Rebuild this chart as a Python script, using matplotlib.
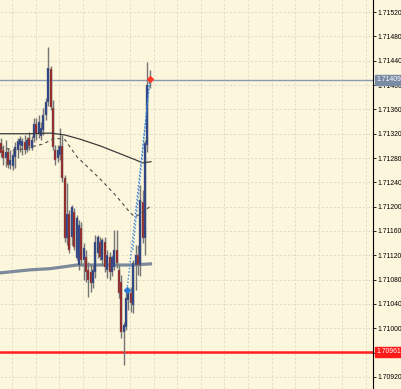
import matplotlib
matplotlib.use("Agg")
import matplotlib.pyplot as plt
from matplotlib.patches import Rectangle

# ---- data ----
opens = [1.71305, 1.71293, 1.71280, 1.71290, 1.71269, 1.71267, 1.71282, 1.71293, 1.71302, 1.71300,
         1.71307, 1.71293, 1.71313, 1.71297, 1.71313, 1.71336, 1.71320, 1.71316, 1.71326, 1.71351,
         1.71372, 1.71427, 1.71362, 1.71293, 1.71280, 1.71285, 1.71300, 1.71247, 1.71149, 1.71187,
         1.71150, 1.71191, 1.71116, 1.71104, 1.71165, 1.71113, 1.71117, 1.71096, 1.71092, 1.71075,
         1.71092, 1.71124, 1.71141, 1.71113, 1.71141, 1.71096, 1.71117, 1.71092, 1.71101, 1.71129,
         1.71096, 1.71076, 1.70993, 1.71002, 1.71047, 1.71058, 1.71039, 1.71104, 1.71121, 1.71104,
         1.71208, 1.71149, 1.71302, 1.71404]
highs = [1.71313, 1.71302, 1.71310, 1.71297, 1.71293, 1.71293, 1.71307, 1.71313, 1.71316, 1.71313,
         1.71318, 1.71315, 1.71323, 1.71316, 1.71346, 1.71346, 1.71351, 1.71339, 1.71362, 1.71379,
         1.71463, 1.71431, 1.71376, 1.71302, 1.71302, 1.71330, 1.71318, 1.71252, 1.71239, 1.71195,
         1.71203, 1.71198, 1.71187, 1.71178, 1.71175, 1.71141, 1.71129, 1.71109, 1.71104, 1.71104,
         1.71154, 1.71154, 1.71150, 1.71149, 1.71150, 1.71129, 1.71126, 1.71121, 1.71162, 1.71162,
         1.71104, 1.71088, 1.71011, 1.71060, 1.71063, 1.71067, 1.71113, 1.71137, 1.71137, 1.71236,
         1.71228, 1.71310, 1.71438, 1.71425]
lows = [1.71282, 1.71269, 1.71266, 1.71264, 1.71262, 1.71261, 1.71264, 1.71280, 1.71290, 1.71285,
        1.71287, 1.71290, 1.71293, 1.71293, 1.71307, 1.71310, 1.71313, 1.71310, 1.71318, 1.71343,
        1.71366, 1.71359, 1.71293, 1.71269, 1.71274, 1.71277, 1.71241, 1.71142, 1.71137, 1.71124,
        1.71137, 1.71129, 1.71113, 1.71096, 1.71104, 1.71080, 1.71076, 1.71052, 1.71060, 1.71066,
        1.71083, 1.71116, 1.71113, 1.71104, 1.71093, 1.71083, 1.71080, 1.71086, 1.71096, 1.71099,
        1.71050, 1.70984, 1.70940, 1.70997, 1.71030, 1.71027, 1.71025, 1.71063, 1.71088, 1.71086,
        1.71141, 1.71121, 1.71290, 1.71395]
closes = [1.71288, 1.71280, 1.71290, 1.71269, 1.71277, 1.71285, 1.71298, 1.71308, 1.71311, 1.71308,
          1.71293, 1.71310, 1.71300, 1.71310, 1.71336, 1.71320, 1.71339, 1.71330, 1.71351, 1.71372,
          1.71428, 1.71364, 1.71298, 1.71277, 1.71293, 1.71300, 1.71247, 1.71149, 1.71187, 1.71129,
          1.71200, 1.71134, 1.71182, 1.71170, 1.71113, 1.71132, 1.71092, 1.71080, 1.71075, 1.71096,
          1.71141, 1.71150, 1.71117, 1.71145, 1.71101, 1.71121, 1.71092, 1.71117, 1.71129, 1.71108,
          1.71058, 1.70993, 1.71006, 1.71050, 1.71058, 1.71042, 1.71108, 1.71121, 1.71104, 1.71211,
          1.71149, 1.71305, 1.71400, 1.71410]

# moving averages: (bar position, price)
ma_slow_x = [-0.5, 12, 21, 27, 33.5, 42, 50.5, 57, 60, 63.5]
ma_slow_y = [1.71320, 1.71320, 1.71321, 1.71318, 1.71311, 1.71300, 1.71287, 1.71277, 1.71272, 1.71274]
ma_dash_x = [-0.5, 6.8, 12.3, 17.8, 22.9, 27.1, 32.2, 41.9, 49.2, 54.7, 56.8, 60.2, 64]
ma_dash_y = [1.71297, 1.71293, 1.71298, 1.71303, 1.71313, 1.71310, 1.71282, 1.71246, 1.71216,
             1.71190, 1.71183, 1.71191, 1.71203]
ma_long_x = [-0.5, 12.3, 20.8, 32.2, 41.9, 55.9, 64]
ma_long_y = [1.71091, 1.71096, 1.71098, 1.71104, 1.71104, 1.71104, 1.71106]

sig_a_x = [53.4, 56.8, 60.2, 63.1]
sig_a_y = [1.71063, 1.71183, 1.71304, 1.71410]
sig_b_x = [55.9, 59.5, 63.1]
sig_b_y = [1.71129, 1.71270, 1.71410]

bid_price = 1.71409
line_price = 1.70961
tick_prices = [1.70920, 1.70960, 1.71000, 1.71040, 1.71080, 1.71120, 1.71160, 1.71200,
               1.71240, 1.71280, 1.71320, 1.71360, 1.71400, 1.71440, 1.71480, 1.71520]
# the 1.70960 label is hidden under the red price box in the reference
tick_labels = ["1.70920", "", "1.71000", "1.71040", "1.71080", "1.71120", "1.71160",
               "1.71200", "1.71240", "1.71280", "1.71320", "1.71360", "1.71400", "1.71440",
               "1.71480", "1.71520"]

# ---- figure ----
W, H = 402, 389
fig = plt.figure(figsize=(W / 100, H / 100), dpi=100)
bg = "#fcf6dc"
fig.patch.set_facecolor(bg)
ax = fig.add_axes([0, 0, 373 / W, 1])
ax.set_facecolor(bg)
ax.set_xlim(-0.42, 157.6)
ax.set_ylim(1.70900, 1.71540)

# grid
gridc = "#dedac9"
for p in tick_prices:
    ax.axhline(p, color=gridc, lw=0.6, ls=(0, (3, 2)), zorder=0)
gx = 4.66
while gx < 158:
    ax.axvline(gx, color=gridc, lw=0.6, ls=(0, (3, 2)), zorder=0)
    gx += 10

# long MA (thick)
ax.plot(ma_long_x, ma_long_y, color="#7c8a9c", lw=2.3, zorder=2, solid_capstyle="butt")

# candles
bull, bear, wickc = "#1e3a8c", "#9c1c1c", "#767676"
for i, (o, h, l, c) in enumerate(zip(opens, highs, lows, closes)):
    ax.vlines(i, l, h, color=wickc, lw=1.0, zorder=3)
    col = bull if c >= o else bear
    ax.add_patch(Rectangle((i - 0.42, min(o, c)), 0.84, abs(c - o) + 1e-6,
                           facecolor=col, edgecolor=wickc, lw=0.3, zorder=4))

# MAs
ax.plot(ma_slow_x, ma_slow_y, color="#3c3c3c", lw=0.9, zorder=5)
ax.plot(ma_dash_x, ma_dash_y, color="#4a4a4a", lw=0.8, ls=(0, (3, 3)), zorder=5)

# signal lines
ax.plot(sig_a_x, sig_a_y, color="#3a86d8", lw=1.0, ls=(0, (1, 1.5)), zorder=6)
ax.plot(sig_b_x, sig_b_y, color="#3a86d8", lw=1.0, ls=(0, (1, 1.5)), zorder=6)
ax.plot([sig_a_x[0]], [sig_a_y[0]], marker="D", ms=3, color="#2a78d0", zorder=7)
ax.plot([sig_a_x[-1]], [sig_a_y[-1]], marker="D", ms=3, color="#ff3a2a", zorder=7)

# horizontal lines
ax.axhline(bid_price, color="#8a9ab0", lw=1.0, zorder=1)
ax.axhline(line_price, color="#ff2020", lw=1.8, zorder=1)

# axis
for s in ["top", "left", "bottom"]:
    ax.spines[s].set_visible(False)
ax.spines["right"].set_color("black")
ax.spines["right"].set_linewidth(0.8)
ax.set_xticks([])
ax.yaxis.tick_right()
ax.set_yticks(tick_prices)
ax.set_yticklabels(tick_labels, fontsize=4.9, family="Liberation Sans", color="black")
ax.tick_params(axis="y", direction="out", length=2.2, width=0.6, pad=0.8, colors="black")

# price label boxes
def box(price, text, fc):
    ax.annotate(text, xy=(1.0, price), xycoords=("axes fraction", "data"),
                xytext=(2.4, 0), textcoords="offset points", va="center", ha="left",
                fontsize=4.9, color="white", family="Liberation Sans", annotation_clip=False,
                bbox=dict(boxstyle="square,pad=0.22", fc=fc, ec=fc), zorder=10)

box(bid_price, "1.71409", "#7a8ba4")
box(line_price, "1.70961", "#ff1a1a")

fig.savefig("out.png", dpi=100, facecolor=bg)
